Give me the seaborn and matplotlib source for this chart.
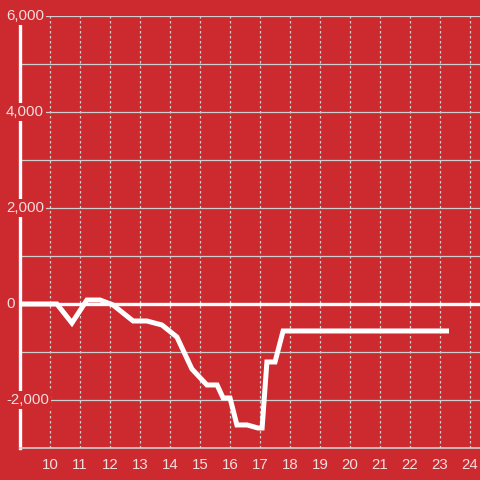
import numpy as np
import pandas as pd
import matplotlib
matplotlib.use('Agg')
import matplotlib.pyplot as plt
import matplotlib.transforms as mtransforms
import seaborn as sns

hours = [9.0, 10.23, 10.73, 11.23, 11.67, 12.1, 12.77, 13.23, 13.73, 14.23,
         14.73, 15.23, 15.57, 15.77, 16.0, 16.23, 16.57, 16.93, 17.07, 17.23,
         17.5, 17.77, 23.3]
values = [0, 0, -396, 83, 83, -20, -354, -354, -437, -687,
          -1354, -1687, -1687, -1958, -1958, -2520, -2520, -2583, -2583, -1208,
          -1208, -562, -562]

x_ticks = list(range(10, 25))
y_ticks = [-2000, 0, 2000, 4000, 6000]
y_tick_labels = ['-2,000', '0', '2,000', '4,000', '6,000']

bg = '#cc2a2f'
grid_col = '#cfcfcf'
text_col = '#f3dcdc'

df = pd.DataFrame({'hour': hours, 'value': values})

sns.set_style('white')
plt.rcParams['font.family'] = ['Liberation Sans', 'DejaVu Sans']

fig = plt.figure(figsize=(4.8, 4.8), dpi=100)
fig.patch.set_facecolor(bg)
ax = fig.add_axes([20 / 480, 32 / 480, 460 / 480, 432 / 480])
ax.set_facecolor(bg)

ax.set_xlim(9, 24.333)
ax.set_ylim(-3000, 6000)

# grid
for yv in range(-3000, 7000, 1000):
    ax.axhline(yv, color=grid_col, lw=0.9, zorder=1)
for xv in x_ticks:
    ax.axvline(xv, color=grid_col, lw=0.9, ls=(0, (2, 2)), zorder=1)

ax.axhline(0, color='white', lw=2.4, zorder=3)

sns.lineplot(data=df, x='hour', y='value', sort=False, estimator=None,
             color='white', lw=3.6, ax=ax, zorder=4,
             solid_capstyle='butt', solid_joinstyle='miter')

for s in ['top', 'right']:
    ax.spines[s].set_visible(False)
ax.spines['left'].set_color('white')
ax.spines['left'].set_linewidth(2.4)
ax.spines['left'].set_bounds(-3000, 5830)
ax.spines['bottom'].set_color(grid_col)
ax.spines['bottom'].set_linewidth(1.2)

ax.set_xticks(x_ticks)
ax.set_xticklabels([str(t) for t in x_ticks])
ax.tick_params(axis='x', length=0, pad=7, labelsize=10.8, labelcolor=text_col)
ax.set_yticks([])
ax.set_xlabel('')
ax.set_ylabel('')

# y labels sit on a red box that hides the spine and grid behind them
trans = mtransforms.blended_transform_factory(fig.transFigure, ax.transData)
for yv, lab in zip(y_ticks, y_tick_labels):
    ax.text(6 / 480, yv, lab, transform=trans, ha='left', va='center',
            fontsize=10.8, color=text_col, zorder=6, clip_on=False,
            bbox=dict(facecolor=bg, edgecolor='none', pad=1.5))

fig.savefig('out.png', dpi=100, facecolor=bg)
